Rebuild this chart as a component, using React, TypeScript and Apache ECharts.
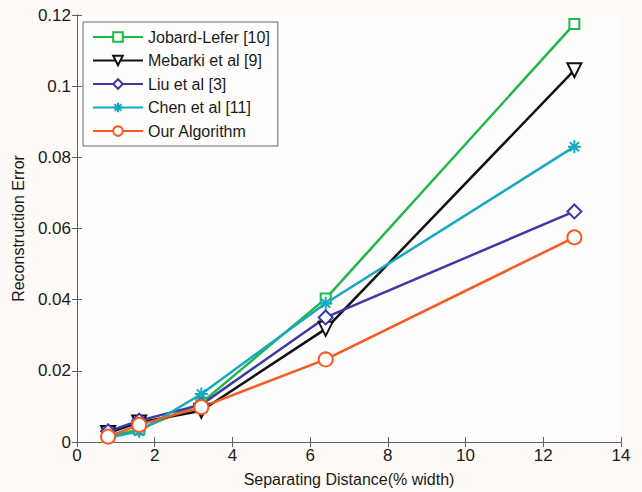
import React, { useEffect, useRef } from "react";
import * as echarts from "echarts";

const xValues = [0.8, 1.6, 3.2, 6.4, 12.8];
const jobard = [0.0015, 0.0035, 0.011, 0.0403, 0.1175];
const mebarki = [0.0025, 0.0055, 0.0088, 0.0318, 0.1045];
const liu = [0.003, 0.006, 0.0105, 0.035, 0.0648];
const chen = [0.0012, 0.003, 0.0135, 0.039, 0.083];
const ours = [0.0015, 0.0048, 0.0098, 0.0232, 0.0575];
const seriesNames = ["Jobard-Lefer [10]", "Mebarki et al [9]", "Liu et al [3]", "Chen et al [11]", "Our Algorithm"];

const asterisk = "path://M0,-10 L0,10 M-10,0 L10,0 M-7,-7 L7,7 M-7,7 L7,-7";

export default function App() {
  const ref = useRef<HTMLDivElement>(null);
  useEffect(() => {
    if (!ref.current) return;
    const chart = echarts.init(ref.current, null, { renderer: "svg" });
    const pts = (ys: number[]) => xValues.map((x, i) => [x, ys[i]]);
    const font = "Liberation Sans, Arial, sans-serif";
    const axisColor = "#5a6468";
    const textColor = "#1a1a1a";
    const mk = (name: string, ys: number[], color: string, symbol: string, size: number, rotate = 0) => ({
      name,
      type: "line",
      data: pts(ys),
      symbol,
      symbolSize: size,
      symbolRotate: rotate,
      showAllSymbol: true,
      lineStyle: { color, width: 2.5 },
      itemStyle: { color, borderColor: color, borderWidth: 2 },
    });
    chart.setOption({
      animation: false,
      backgroundColor: "#fffaf7",
      textStyle: { fontFamily: font },
      grid: { left: 77, right: 21, top: 15, bottom: 48, backgroundColor: "#fffdfc", show: true, borderWidth: 0 },
      legend: {
        left: 83,
        top: 22,
        orient: "vertical",
        itemWidth: 50,
        itemHeight: 12,
        itemGap: 7.5,
        padding: [7, 8, 7, 9],
        borderColor: "#666",
        borderWidth: 1,
        backgroundColor: "#fffdfc",
        textStyle: { fontSize: 16, color: textColor, fontFamily: font },
        data: seriesNames,
      },
      xAxis: [
        {
          type: "value",
          min: 0,
          max: 14,
          interval: 2,
          name: "Separating Distance(% width)",
          nameLocation: "middle",
          nameGap: 29,
          nameTextStyle: { fontSize: 16, color: textColor },
          axisLine: { show: true, lineStyle: { color: axisColor, width: 1 } },
          axisTick: { inside: true, length: 5, lineStyle: { color: axisColor } },
          axisLabel: { fontSize: 17, color: textColor, margin: 5 },
          splitLine: { show: false },
        },
        {
          type: "value",
          position: "top",
          min: 0,
          max: 14,
          interval: 2,
          axisLine: { show: true, lineStyle: { color: axisColor, width: 1 } },
          axisTick: { inside: true, length: 5, lineStyle: { color: axisColor } },
          axisLabel: { show: false },
          splitLine: { show: false },
        },
      ],
      yAxis: [
        {
          type: "value",
          min: 0,
          max: 0.12,
          interval: 0.02,
          name: "Reconstruction Error",
          nameLocation: "middle",
          nameGap: 51,
          nameTextStyle: { fontSize: 16, color: textColor },
          axisLine: { show: true, lineStyle: { color: axisColor, width: 1 } },
          axisTick: { inside: true, length: 5, lineStyle: { color: axisColor } },
          axisLabel: { fontSize: 17, color: textColor, margin: 6 },
          splitLine: { show: false },
        },
        {
          type: "value",
          position: "right",
          min: 0,
          max: 0.12,
          interval: 0.02,
          axisLine: { show: true, lineStyle: { color: axisColor, width: 1 } },
          axisTick: { inside: true, length: 5, lineStyle: { color: axisColor } },
          axisLabel: { show: false },
          splitLine: { show: false },
        },
      ],
      series: [
        mk(seriesNames[0], jobard, "#1fb84a", "emptyRect", 10),
        mk(seriesNames[1], mebarki, "#111111", "emptyTriangle", 14, 180),
        mk(seriesNames[2], liu, "#3c3aa8", "emptyDiamond", 14),
        mk(seriesNames[3], chen, "#14a8c2", asterisk, 13),
        mk(seriesNames[4], ours, "#f75a22", "emptyCircle", 14),
      ],
    });
    return () => chart.dispose();
  }, []);
  return <div ref={ref} style={{ width: 642, height: 492, position: "absolute", left: 0, top: 0 }} />;
}
